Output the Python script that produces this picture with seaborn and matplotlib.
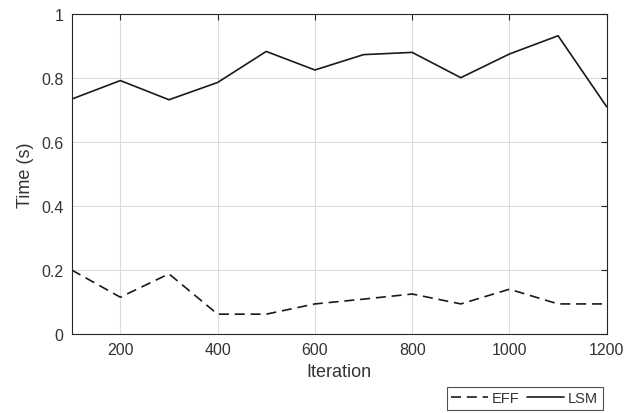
import matplotlib
matplotlib.use("Agg")
import matplotlib.pyplot as plt
import pandas as pd
import seaborn as sns

iterations = [100, 200, 300, 400, 500, 600, 700, 800, 900, 1000, 1100, 1200]
eff_time = [0.200, 0.115, 0.188, 0.062, 0.062, 0.094, 0.109, 0.125, 0.094, 0.140, 0.094, 0.094]
lsm_time = [0.734, 0.792, 0.732, 0.786, 0.883, 0.825, 0.873, 0.880, 0.801, 0.875, 0.932, 0.710]
series_names = ["EFF", "LSM"]
x_ticks = [200, 400, 600, 800, 1000, 1200]
y_ticks = [0, 0.2, 0.4, 0.6, 0.8, 1.0]
y_tick_labels = ["0", "0.2", "0.4", "0.6", "0.8", "1"]

df = pd.concat([
    pd.DataFrame({"Iteration": iterations, "Time": eff_time, "series": series_names[0]}),
    pd.DataFrame({"Iteration": iterations, "Time": lsm_time, "series": series_names[1]}),
])

sns.set_theme(style="whitegrid")
plt.rcParams["font.family"] = ["Liberation Sans", "DejaVu Sans"]

fig = plt.figure(figsize=(6.26, 4.14), dpi=100)
ax = fig.add_axes([0.1145, 0.1908, 0.8547, 0.773])

sns.lineplot(
    data=df, x="Iteration", y="Time", style="series",
    dashes={"EFF": (6, 3.5), "LSM": ""}, color="#1a1a1a", linewidth=1.2, ax=ax,
)
ax.get_legend().remove()

ax.set_xlim(100, 1200)
ax.set_ylim(0, 1)
ax.set_xticks(x_ticks)
ax.set_yticks(y_ticks)
ax.set_yticklabels(y_tick_labels)
ax.set_xlabel("Iteration", fontsize=13, color="#333333", labelpad=4)
ax.set_ylabel("Time (s)", fontsize=13, color="#333333", labelpad=5)
ax.tick_params(axis="both", direction="in", length=4, width=0.8, colors="#262626",
               labelcolor="#333333", labelsize=11.5, top=True, right=True, pad=6)
ax.grid(True, color="#dcdcdc", linewidth=0.8)
ax.set_facecolor("white")
for side in ax.spines.values():
    side.set_visible(True)
    side.set_color("#262626")
    side.set_linewidth(0.8)

handles, labels = ax.get_lines(), series_names
leg = fig.legend(
    handles[:2], labels, loc="upper left", bbox_to_anchor=(447 / 626, 1 - 388 / 414),
    ncol=2, frameon=True, fancybox=False, edgecolor="#262626", fontsize=10.5,
    handlelength=2.5, handletextpad=0.3, columnspacing=0.5, borderpad=0.3,
    borderaxespad=0,
)
leg.get_frame().set_linewidth(0.8)
for txt in leg.get_texts():
    txt.set_color("#333333")

fig.savefig("out.png", dpi=100, facecolor="white")
plt.close(fig)
